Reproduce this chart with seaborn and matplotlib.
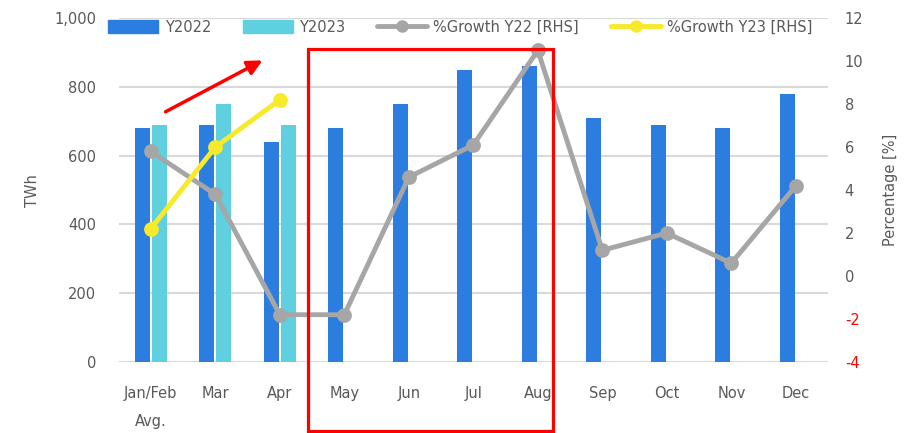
import pandas as pd
import seaborn as sns
import matplotlib.pyplot as plt
from matplotlib.patches import Patch, Rectangle
from matplotlib.lines import Line2D
from matplotlib.ticker import FuncFormatter

# data
months = ['Jan/Feb\nAvg.', 'Mar', 'Apr', 'May', 'Jun', 'Jul', 'Aug', 'Sep', 'Oct', 'Nov', 'Dec']
y2022 = [680, 690, 640, 680, 750, 850, 860, 710, 690, 680, 780]
y2023 = [690, 750, 690]
growth_y22 = [5.8, 3.8, -1.8, -1.8, 4.6, 6.1, 10.5, 1.2, 2.0, 0.6, 4.2]
growth_y23 = [2.2, 6.0, 8.2]

blue = '#2b7de0'
cyan = '#5fd0df'
grey = '#a6a6a6'
yellow = '#f7ea2a'
txt = '#595959'

# long tables for seaborn
bars = pd.concat([
    pd.DataFrame({'month': months, 'year': 'Y2022', 'twh': y2022}),
    pd.DataFrame({'month': months[:len(y2023)], 'year': 'Y2023', 'twh': y2023}),
])
growth = pd.concat([
    pd.DataFrame({'month': months, 'series': '%Growth Y22 [RHS]', 'pct': growth_y22}),
    pd.DataFrame({'month': months[:len(growth_y23)], 'series': '%Growth Y23 [RHS]', 'pct': growth_y23}),
])

sns.set_theme(style='white')
plt.rcParams['font.family'] = ['DejaVu Sans']
plt.rcParams['axes.unicode_minus'] = False

fig = plt.figure(figsize=(9.12, 4.33), dpi=100)
ax = fig.add_axes([0.130, 0.164, 0.778, 0.794])

sns.barplot(data=bars, x='month', y='twh', hue='year', order=months,
            hue_order=['Y2022', 'Y2023'], palette=[blue, cyan], saturation=1,
            width=0.53, gap=0.13, linewidth=0, ax=ax, legend=False)

ax.set_ylim(0, 1000)
ax.set_yticks(range(0, 1001, 200))
ax.yaxis.set_major_formatter(FuncFormatter(lambda v, p: f'{int(v):,}'))
ax.grid(axis='y', color='#d9d9d9', linewidth=1.5)
ax.set_axisbelow(True)
ax.set_xlabel('')
ax.set_ylabel('TWh', color=txt, fontsize=10.5, labelpad=10)

# growth lines on the right axis
ax2 = ax.twinx()
sns.pointplot(data=growth, x='month', y='pct', hue='series', order=months,
              hue_order=['%Growth Y22 [RHS]', '%Growth Y23 [RHS]'],
              palette=[grey, yellow], markers='o', errorbar=None, dodge=False,
              markersize=8, linewidth=3.5, ax=ax2, legend=False)
ax2.set_ylim(-4, 12)
ax2.set_yticks(range(-4, 13, 2))
ax2.set_ylabel('Percentage [%]', color=txt, fontsize=10.5, labelpad=14)
ax2.grid(False)

ax.set_xlim(-0.5, len(months) - 0.5)
ax.set_xticks(range(len(months)))
ax.set_xticklabels(months)
for lab in ax.get_xticklabels():
    lab.set_linespacing(2.1)

for a in (ax, ax2):
    for s in a.spines.values():
        s.set_visible(False)
ax.tick_params(axis='x', length=0, pad=17, labelsize=10.5, colors=txt)
ax.tick_params(axis='y', length=0, pad=16, labelsize=10.5, colors=txt)
ax2.tick_params(axis='y', length=0, pad=12, labelsize=10.5, colors=txt)
for lab in ax2.get_yticklabels():
    if lab.get_text().startswith('-'):
        lab.set_color('red')

# legend across the top
handles = [
    Patch(color=blue, label='Y2022'),
    Patch(color=cyan, label='Y2023'),
    Line2D([], [], color=grey, lw=3.5, marker='o', markersize=8, label='%Growth Y22 [RHS]'),
    Line2D([], [], color=yellow, lw=3.5, marker='o', markersize=8, label='%Growth Y23 [RHS]'),
]
leg = fig.legend(handles=handles, loc='center', bbox_to_anchor=(0.505, 0.937), ncol=4,
                 frameon=False, fontsize=10.5, handlelength=3.4, handleheight=1.0,
                 handletextpad=0.45, columnspacing=2.2)
for t in leg.get_texts():
    t.set_color(txt)

# red annotations
ax.annotate('', xy=(1.77, 881), xytext=(0.19, 724),
            arrowprops=dict(arrowstyle='-|>', color='red', lw=2.5, mutation_scale=22))
fig.patches.append(Rectangle((0.338, 0.004), 0.268, 0.883, transform=fig.transFigure,
                             fill=False, edgecolor='red', linewidth=2.3))

fig.savefig('out.png', dpi=100)
